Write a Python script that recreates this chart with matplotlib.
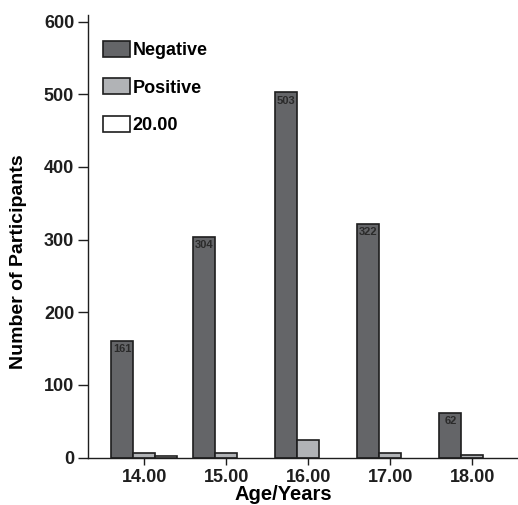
import numpy as np
import matplotlib.pyplot as plt

# Data
ages = ["14.00", "15.00", "16.00", "17.00", "18.00"]
negative = [161, 304, 503, 322, 62]
positive = [6, 6, 25, 6, 4]
other = [3, 0, 0, 0, 0]  # series labelled "20.00"

plt.rcParams['font.family'] = ['Liberation Sans', 'DejaVu Sans']
plt.rcParams['font.weight'] = 'bold'

fig = plt.figure(figsize=(5.18, 5.05), dpi=100)
ax = fig.add_axes([0.170, 0.0937, 0.830, 0.8766])

x = np.arange(len(ages))
w = 0.265
edge = '#1e1e1e'

ax.bar(x - w, negative, w, color='#646568', edgecolor=edge, linewidth=1.2, label='Negative')
ax.bar(x, positive, w, color='#b1b3b6', edgecolor=edge, linewidth=1.2, label='Positive')
# empty categories get no bar at all in the original
other = np.array(other, dtype=float)
shown = other > 0
ax.bar(x[shown] + w, other[shown], w, color='white', edgecolor=edge, linewidth=1.2, label='20.00')

# value labels inside the top of the negative bars
for xi, v in zip(x - w, negative):
    ax.text(xi, v - 5, str(v), ha='center', va='top', fontsize=8,
            fontweight='bold', color='#2a2a2a')

ax.set_xlim(-0.683, 4.56)
ax.set_ylim(0, 609)
ax.set_yticks([0, 100, 200, 300, 400, 500, 600])
ax.set_xticks(x)
ax.set_xticklabels(ages)

for s in ['top', 'right']:
    ax.spines[s].set_visible(False)
for s in ['left', 'bottom']:
    ax.spines[s].set_linewidth(1.0)
    ax.spines[s].set_color('#1e1e1e')

ax.tick_params(axis='y', length=7, width=1.0, labelsize=13, pad=3, colors='#1e1e1e')
ax.tick_params(axis='x', length=5, width=1.0, labelsize=13, pad=3, colors='#1e1e1e')

ax.set_ylabel('Number of Participants', fontsize=14, fontweight='bold')
ax.yaxis.set_label_coords(-0.143, 0.442)
ax.set_xlabel('Age/Years', fontsize=14.5, fontweight='bold')
ax.xaxis.set_label_coords(0.453, -0.061)

leg = ax.legend(loc='upper left', bbox_to_anchor=(0.034, 0.941), frameon=False,
                fontsize=13, handlelength=1.5, handleheight=1.0,
                labelspacing=1.05, handletextpad=0.15, borderaxespad=0.0,
                borderpad=0.0)

fig.savefig('out.png', dpi=100)
